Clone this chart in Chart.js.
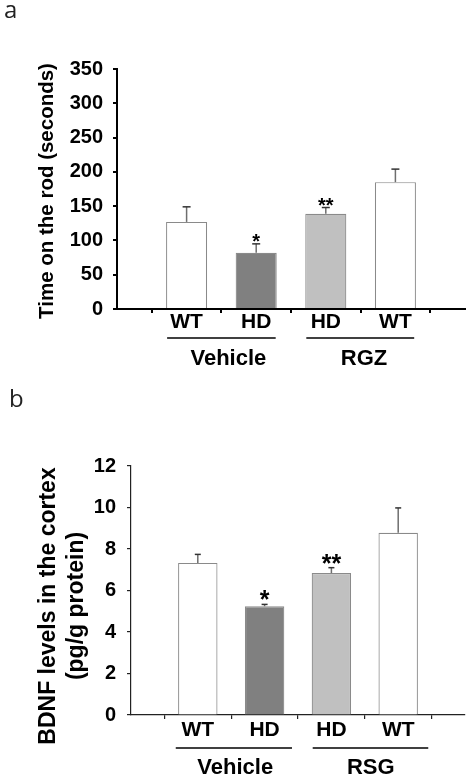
<!DOCTYPE html>
<html>
<head>
<meta charset="utf-8">
<script src="https://cdn.jsdelivr.net/npm/chart.js@4.4.0/dist/chart.umd.min.js"></script>
<style>
  html, body { margin: 0; padding: 0; background: #fff; }
  .panel { position: absolute; left: 0; width: 471px; }
  #panelA { top: 0; height: 380px; }
  #panelB { top: 380px; height: 404px; }
</style>
</head>
<body>
<div class="panel" id="panelA"><canvas id="chartA"></canvas></div>
<div class="panel" id="panelB"><canvas id="chartB"></canvas></div>
<script>
// Data
const categories = ['WT', 'HD', 'HD', 'WT'];
const rodTime = [127, 82, 139, 185];
const rodTimeErr = [22, 13, 9, 19];
const bdnfCortex = [7.33, 5.24, 6.84, 8.78];
const bdnfCortexErr = [0.41, 0.09, 0.26, 1.2];
const stars = ['', '*', '**', ''];
const groupsA = ['Vehicle', 'RGZ'];
const groupsB = ['Vehicle', 'RSG'];
const rodTicks = { min: 0, max: 350, step: 50 };
const bdnfTicks = { min: 0, max: 12, step: 2 };

const barFills = ['#ffffff', '#808080', '#c0c0c0', '#ffffff'];
const ARIAL = '"Liberation Sans", Arial, sans-serif';

// error bars, stars, group brackets, axis title and panel letter
const annotPlugin = {
  id: 'annot',
  afterDatasetsDraw(chart, args, o) {
    const ctx = chart.ctx;
    const xs = chart.scales.x, ys = chart.scales.y;
    const meta = chart.getDatasetMeta(0);
    ctx.save();

    o.values.forEach((v, i) => {
      const bar = meta.data[i + 1];
      const top = ys.getPixelForValue(v + o.errors[i]);
      ctx.strokeStyle = '#6e6e6e';
      ctx.lineWidth = 1.5;
      ctx.beginPath();
      ctx.moveTo(bar.x, bar.y);
      ctx.lineTo(bar.x, top);
      ctx.stroke();
      ctx.strokeStyle = '#333';
      ctx.beginPath();
      ctx.moveTo(bar.x - o.cap, top);
      ctx.lineTo(bar.x + o.cap, top);
      ctx.stroke();
      if (stars[i]) {
        ctx.fillStyle = '#000';
        ctx.font = o.starFont;
        ctx.textAlign = 'center';
        ctx.textBaseline = 'alphabetic';
        ctx.fillText(stars[i], bar.x, top + o.starShift);
      }
    });

    const base = ys.bottom;
    o.groups.forEach((g, k) => {
      const s = o.spans[k];
      ctx.strokeStyle = '#000';
      ctx.lineWidth = 1.5;
      ctx.beginPath();
      ctx.moveTo(xs.getPixelForValue(s[0]), base + o.lineDy);
      ctx.lineTo(xs.getPixelForValue(s[1]), base + o.lineDy);
      ctx.stroke();
      ctx.fillStyle = '#000';
      ctx.font = 'bold 22px ' + ARIAL;
      ctx.textAlign = 'center';
      ctx.textBaseline = 'middle';
      ctx.fillText(g, xs.getPixelForValue(s[2]), base + o.labelDy);
    });

    ctx.font = '24px "Open Sans", sans-serif';
    ctx.textAlign = 'left';
    ctx.textBaseline = 'alphabetic';
    ctx.fillStyle = '#222';
    ctx.fillText(o.letter, o.letterX, o.letterY);

    ctx.translate(o.titleX, o.titleY);
    ctx.rotate(-Math.PI / 2);
    ctx.fillStyle = '#000';
    ctx.font = o.titleFont;
    ctx.textAlign = 'center';
    ctx.textBaseline = 'middle';
    o.title.forEach((line, k) => ctx.fillText(line, 0, k * o.titleLh));
    ctx.restore();
  }
};

function makeChart(id, values, errors, yr, o) {
  return new Chart(document.getElementById(id), {
    type: 'bar',
    data: {
      labels: ['', ...categories, ''],
      datasets: [{
        data: [null, ...values, null],
        backgroundColor: ['#fff', ...barFills, '#fff'],
        borderColor: '#8a8a8a',
        borderWidth: 1.2,
        borderSkipped: 'bottom',
        barPercentage: 0.59,
        categoryPercentage: 1
      }]
    },
    options: {
      responsive: true,
      maintainAspectRatio: false,
      animation: false,
      layout: { padding: { top: o.top, right: 6, left: 0, bottom: 0 } },
      plugins: {
        legend: { display: false },
        tooltip: { enabled: false },
        annot: Object.assign({ values: values, errors: errors }, o.annot)
      },
      scales: {
        x: {
          type: 'category',
          offset: false,
          grid: { drawOnChartArea: false, drawTicks: true, tickLength: 4, color: o.axisColor, lineWidth: o.axisWidth },
          border: { color: o.axisColor, width: o.axisWidth },
          ticks: {
            color: '#000', padding: o.xPad, autoSkip: false, maxRotation: 0,
            font: { family: ARIAL, size: 21, weight: 'bold', lineHeight: 0.9 }
          },
          afterFit: s => { s.height = o.xHeight; }
        },
        y: {
          min: yr.min, max: yr.max,
          grid: { drawOnChartArea: false, drawTicks: true, tickLength: 4, color: o.axisColor, lineWidth: o.axisWidth },
          border: { color: o.axisColor, width: o.axisWidth },
          ticks: {
            stepSize: yr.step, color: '#000', padding: o.yPad,
            font: { family: ARIAL, size: 20, weight: 'bold' }
          },
          afterFit: s => { s.width = o.yWidth; }
        }
      }
    },
    plugins: [annotPlugin]
  });
}

makeChart('chartA', rodTime, rodTimeErr, rodTicks, {
  top: 69, xHeight: 71, yWidth: 117, xPad: 0, yPad: 10,
  axisColor: '#000', axisWidth: 2,
  annot: {
    cap: 4, starFont: 'bold 20px ' + ARIAL, starShift: 4,
    groups: groupsA, spans: [[0.72, 2.28, 1.6], [2.72, 4.27, 3.55]],
    lineDy: 29, labelDy: 50,
    letter: 'a', letterX: 4, letterY: 18,
    title: ['Time on the rod (seconds)'], titleFont: 'bold 20.5px ' + ARIAL,
    titleX: 47.5, titleY: 191, titleLh: 0
  }
});

makeChart('chartB', bdnfCortex, bdnfCortexErr, bdnfTicks, {
  top: 86, xHeight: 69, yWidth: 131, xPad: 1.5, yPad: 11,
  axisColor: '#222', axisWidth: 1.2,
  annot: {
    cap: 3, starFont: 'bold 25px ' + ARIAL, starShift: 4,
    groups: groupsB, spans: [[0.67, 2.41, 1.56], [2.72, 4.45, 3.59]],
    lineDy: 33, labelDy: 53,
    letter: 'b', letterX: 9, letterY: 27,
    title: ['BDNF levels in the cortex', '(pg/g protein)'], titleFont: 'bold 23px ' + ARIAL,
    titleX: 49, titleY: 226, titleLh: 28
  }
});
</script>
</body>
</html>
